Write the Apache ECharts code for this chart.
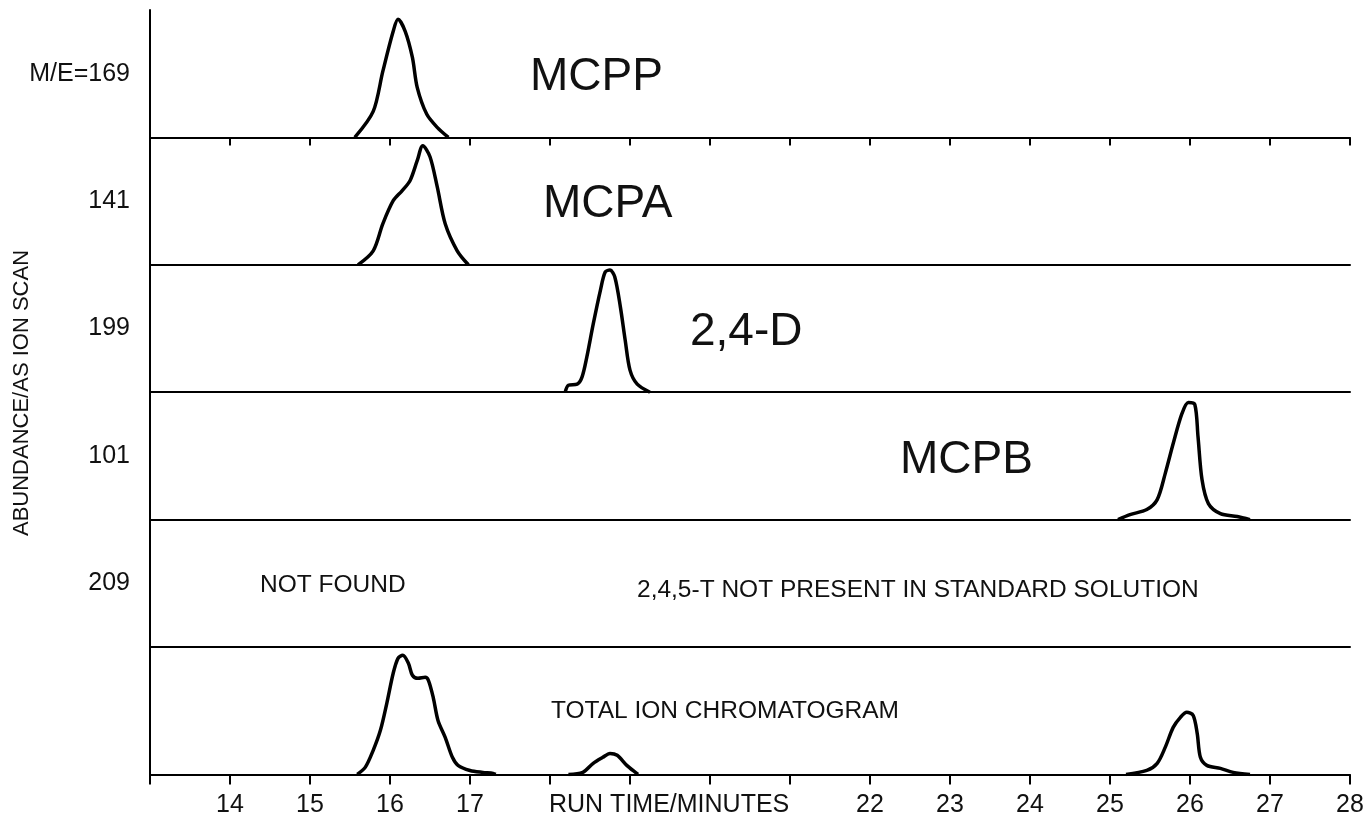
<!DOCTYPE html>
<html>
<head>
<meta charset="utf-8">
<script src="https://cdn.jsdelivr.net/npm/echarts@6/dist/echarts.min.js"></script>
<style>
html,body{margin:0;padding:0;background:#fff;}
#c{width:1367px;height:821px;}
</style>
</head>
<body>
<div id="c"></div>
<script>
// ---- data (run time in minutes, abundance in % of panel full scale) ----
const panelLabels = ['M/E=169', '141', '199', '101', '209', ''];
const xTickLabels = ['', '14', '15', '16', '17', '', '', '', '', '22', '23', '24', '25', '26', '27', '28']; // for 13..28
const xTitle = 'RUN TIME/MINUTES';
const yTitle = 'ABUNDANCE/AS ION SCAN';

const mcppTrace = [[15.56,0],[15.79,20.4],[15.91,51.8],[16.04,83.3],[16.10,92.7],[16.19,83.3],[16.28,62.8],[16.34,39.3],[16.46,18.1],[16.59,7.9],[16.73,0]];
const mcpaTrace = [[15.60,0],[15.79,11],[15.91,32.2],[16.04,50.3],[16.15,58.1],[16.25,66],[16.34,81.7],[16.41,93.5],[16.50,84.8],[16.59,61.3],[16.69,32.2],[16.84,11],[16.98,0]];
const d24Trace = [[18.19,0],[18.23,5.5],[18.34,6.3],[18.40,11.8],[18.46,27.5],[18.54,53.4],[18.63,80],[18.69,94.3],[18.75,95.9],[18.81,90.4],[18.88,66.8],[18.94,40.8],[19.00,17.3],[19.09,6.3],[19.25,0]];
const mcpbTrace = [[25.10,0],[25.25,3.9],[25.46,7.9],[25.59,15.7],[25.69,36.1],[25.79,59.7],[25.90,83.3],[25.98,91.9],[26.06,90.4],[26.10,65.2],[26.15,31.4],[26.23,12.6],[26.38,4.7],[26.59,2.4],[26.75,0]];
const t245Trace = []; // not found
const ticTrace = [[15.59,0],[15.69,5.5],[15.79,18.9],[15.88,34.6],[15.96,55.8],[16.04,79.4],[16.10,91.1],[16.16,93.5],[16.23,87.2],[16.28,77.8],[16.35,75.4],[16.44,76.2],[16.48,73.8],[16.54,60.5],[16.60,42.4],[16.69,29.1],[16.78,13.4],[16.85,7.1],[17.00,3.1],[17.16,1.6],[17.29,0.8],[17.32,0],
  null,
  [18.23,0],[18.41,1.6],[18.54,8.7],[18.66,13.4],[18.75,16.5],[18.84,15],[18.96,7.1],[19.10,0],
  null,
  [25.20,0],[25.46,3.1],[25.59,8.7],[25.69,21.2],[25.79,36.9],[25.88,44.8],[25.96,48.7],[26.04,46.3],[26.09,32.2],[26.13,13.4],[26.21,7.1],[26.38,4.7],[26.54,1.6],[26.75,0]];

const traces = [mcppTrace, mcpaTrace, d24Trace, mcpbTrace, t245Trace, ticTrace];

const annotations = [
  {text:'MCPP', x:530, y:77, size:46},
  {text:'MCPA', x:543, y:204, size:46},
  {text:'2,4-D', x:690, y:332, size:46},
  {text:'MCPB', x:900, y:460, size:46},
  {text:'NOT FOUND', x:260, y:585, size:24.5},
  {text:'2,4,5-T NOT PRESENT IN STANDARD SOLUTION', x:637, y:590, size:24.5},
  {text:'TOTAL ION CHROMATOGRAM', x:551, y:711, size:24.5}
];

// ---- layout ----
const FONT = '"Liberation Sans", Arial, sans-serif';
const top0 = 10, panelH = 127.4, left = 150, right = 17;
const n = panelLabels.length;
const grids = [], xAxes = [], yAxes = [], series = [];
for (let i = 0; i < n; i++) {
  grids.push({left: left, right: right, top: top0 + i * panelH, height: panelH, containLabel: false});
  const isBottom = i === n - 1;
  xAxes.push({
    type: 'value', gridIndex: i, min: 13, max: 28, interval: 1,
    axisLine: {show: true, onZero: false, lineStyle: {color: '#000', width: 2}},
    axisTick: {show: i === 0 || isBottom, length: isBottom ? 10 : 8, lineStyle: {color: '#000', width: 2}},
    axisLabel: {
      show: isBottom, margin: 18, color: '#111', fontSize: 25, fontFamily: FONT,
      formatter: v => xTickLabels[Math.round(v) - 13] || ''
    },
    splitLine: {show: false}
  });
  yAxes.push({
    type: 'value', gridIndex: i, min: 0, max: 100, interval: 50,
    axisLine: {show: true, lineStyle: {color: '#000', width: 2}},
    axisTick: {show: false},
    splitLine: {show: false},
    axisLabel: {
      show: true, margin: 20, color: '#111', fontSize: 25, fontFamily: FONT,
      formatter: v => (v === 50 ? panelLabels[i] : '')
    }
  });
  series.push({
    type: 'line', xAxisIndex: i, yAxisIndex: i, data: traces[i],
    showSymbol: false, smooth: 0.3, connectNulls: false,
    lineStyle: {color: '#000', width: 3.5}, silent: true, animation: false
  });
}

const graphic = annotations.map(a => ({
  type: 'text', x: a.x, y: a.y,
  style: {text: a.text, fontSize: a.size, fontFamily: FONT, fill: '#111', align: 'left', verticalAlign: 'middle'}
}));
graphic.push({type: 'text', x: 549, y: 805, style: {text: xTitle, fontSize: 25, fontFamily: FONT, fill: '#111', align: 'left', verticalAlign: 'middle'}});
graphic.push({type: 'text', x: 22, y: 393, rotation: Math.PI / 2,
  style: {text: yTitle, fontSize: 22, fontFamily: FONT, fill: '#111', align: 'center', verticalAlign: 'middle'}});

const chart = echarts.init(document.getElementById('c'), null, {renderer: 'canvas'});
chart.setOption({
  backgroundColor: '#fff', animation: false,
  grid: grids, xAxis: xAxes, yAxis: yAxes, series: series, graphic: graphic
});
</script>
</body>
</html>
